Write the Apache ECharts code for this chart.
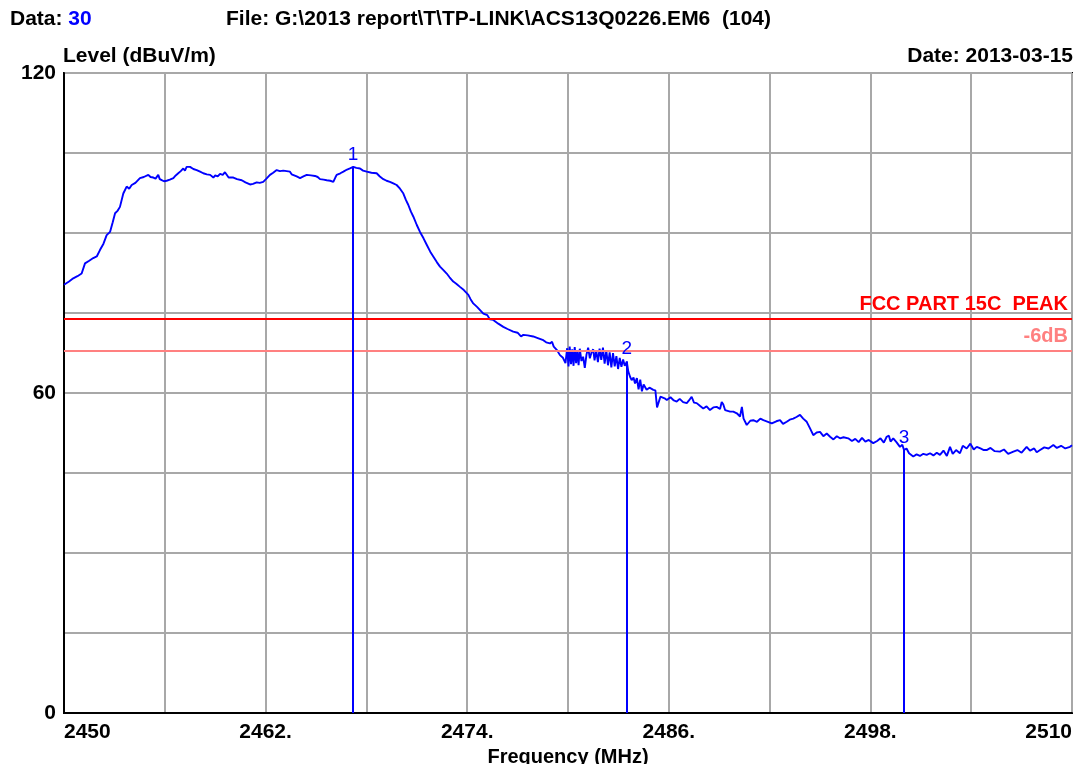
<!DOCTYPE html>
<html>
<head>
<meta charset="utf-8">
<title>Level vs Frequency</title>
<script src="https://cdn.jsdelivr.net/npm/echarts@6/dist/echarts.min.js"></script>
<style>
  html, body { margin: 0; padding: 0; background: #ffffff; }
  #chart { width: 1089px; height: 764px; }
</style>
</head>
<body>
<div id="chart"></div>
<script>
// Measured trace: frequency (MHz) and level (dBuV/m)
const freqMHz = [
  2450.00, 2450.30, 2450.55, 2450.80, 2451.05, 2451.25, 2451.50, 2451.74, 2451.95, 2452.14,
  2452.35, 2452.54, 2452.74, 2452.90, 2453.04, 2453.20, 2453.33, 2453.53, 2453.73, 2453.88,
  2454.03, 2454.25, 2454.52, 2454.75, 2455.02, 2455.15, 2455.32, 2455.45, 2455.61, 2455.70,
  2455.82, 2455.95, 2456.11, 2456.30, 2456.51, 2456.65, 2456.80, 2456.95, 2457.10, 2457.20,
  2457.30, 2457.50, 2457.70, 2457.90, 2458.10, 2458.29, 2458.50, 2458.70, 2458.89, 2459.00,
  2459.15, 2459.29, 2459.45, 2459.58, 2459.68, 2459.80, 2460.08, 2460.30, 2460.58, 2460.80,
  2461.07, 2461.25, 2461.47, 2461.65, 2461.86, 2462.05, 2462.26, 2462.45, 2462.66, 2462.85,
  2463.05, 2463.25, 2463.45, 2463.55, 2463.65, 2463.85, 2464.05, 2464.25, 2464.45, 2464.70,
  2464.94, 2465.10, 2465.24, 2465.45, 2465.64, 2465.85, 2466.03, 2466.15, 2466.23, 2466.45,
  2466.63, 2466.85, 2467.02, 2467.22, 2467.40, 2467.62, 2467.80, 2468.02, 2468.30, 2468.61,
  2468.80, 2469.01, 2469.20, 2469.40, 2469.60, 2469.80, 2470.00, 2470.20, 2470.35, 2470.49,
  2470.65, 2470.79, 2471.00, 2471.19, 2471.40, 2471.59, 2471.80, 2471.98, 2472.20, 2472.38,
  2472.60, 2472.78, 2472.95, 2473.17, 2473.35, 2473.57, 2473.80, 2474.07, 2474.20, 2474.36,
  2474.60, 2474.96, 2475.20, 2475.35, 2475.55, 2475.85, 2476.15, 2476.40, 2476.74, 2477.00,
  2477.20, 2477.34, 2477.60, 2477.93, 2478.20, 2478.53, 2478.70, 2478.93, 2479.05, 2479.15,
  2479.33, 2479.52, 2479.70, 2479.85, 2479.95, 2480.03, 2480.10, 2480.18, 2480.25, 2480.33,
  2480.40, 2480.48, 2480.55, 2480.63, 2480.70, 2480.80, 2480.90, 2481.00, 2481.10, 2481.20,
  2481.30, 2481.40, 2481.50, 2481.58, 2481.68, 2481.78, 2481.88, 2481.98, 2482.08, 2482.18,
  2482.28, 2482.38, 2482.48, 2482.58, 2482.68, 2482.78, 2482.88, 2482.98, 2483.08, 2483.18,
  2483.28, 2483.38, 2483.50, 2483.59, 2483.70, 2483.79, 2483.90, 2483.99, 2484.10, 2484.20,
  2484.30, 2484.40, 2484.50, 2484.68, 2484.85, 2485.08, 2485.20, 2485.30, 2485.38, 2485.50,
  2485.58, 2485.75, 2485.88, 2486.10, 2486.30, 2486.47, 2486.65, 2486.85, 2487.07, 2487.20,
  2487.36, 2487.50, 2487.66, 2487.85, 2488.05, 2488.25, 2488.45, 2488.65, 2488.85, 2489.05,
  2489.15, 2489.24, 2489.35, 2489.44, 2489.65, 2489.84, 2490.05, 2490.24, 2490.35, 2490.45,
  2490.64, 2490.85, 2491.03, 2491.25, 2491.45, 2491.63, 2491.90, 2492.13, 2492.40, 2492.62,
  2492.80, 2493.02, 2493.20, 2493.41, 2493.60, 2493.81, 2494.00, 2494.21, 2494.40, 2494.60,
  2494.80, 2495.00, 2495.20, 2495.40, 2495.60, 2495.80, 2496.00, 2496.19, 2496.40, 2496.68,
  2496.90, 2497.10, 2497.30, 2497.50, 2497.70, 2497.90, 2498.17, 2498.40, 2498.60, 2498.80,
  2498.97, 2499.10, 2499.20, 2499.36, 2499.55, 2499.76, 2499.90, 2500.00, 2500.15, 2500.30,
  2500.55, 2500.75, 2500.95, 2501.15, 2501.35, 2501.55, 2501.75, 2501.95, 2502.14, 2502.35,
  2502.55, 2502.74, 2502.90, 2503.10, 2503.33, 2503.50, 2503.73, 2503.95, 2504.15, 2504.33,
  2504.55, 2504.75, 2504.92, 2505.15, 2505.40, 2505.71, 2505.95, 2506.20, 2506.51, 2506.75,
  2507.00, 2507.30, 2507.50, 2507.75, 2507.90, 2508.10, 2508.35, 2508.60, 2508.89, 2509.10,
  2509.35, 2509.60, 2509.88, 2510.00
];
const levelDb = [
  80.3, 80.9, 81.5, 81.9, 82.4, 84.3, 84.8, 85.3, 85.6, 86.8,
  88.0, 89.6, 90.2, 92.0, 93.7, 94.2, 94.9, 97.4, 98.7, 98.3,
  99.0, 99.4, 100.3, 100.5, 100.9, 100.5, 100.4, 100.2, 100.9, 100.1,
  99.9, 99.7, 99.8, 100.0, 100.3, 100.8, 101.2, 101.6, 102.1, 101.7,
  102.4, 102.4, 102.0, 101.8, 101.5, 101.2, 101.0, 100.9, 100.4, 100.8,
  100.6, 101.1, 100.9, 101.4, 101.2, 100.4, 100.4, 100.1, 99.9, 99.5,
  99.1, 99.2, 99.5, 99.4, 99.6, 100.2, 100.9, 101.3, 101.8, 101.6,
  101.7, 101.6, 101.5, 101.0, 100.9, 100.6, 100.3, 100.6, 100.9, 100.8,
  100.7, 100.5, 100.1, 100.0, 99.9, 99.8, 99.6, 100.4, 100.9, 101.2,
  101.5, 101.9, 102.1, 102.4, 102.2, 102.1, 101.7, 101.5, 101.3, 101.2,
  100.6, 100.1, 99.8, 99.6, 99.3, 99.0, 98.3, 97.4, 96.2, 95.3,
  94.0, 93.1, 91.5, 90.2, 89.0, 87.8, 86.5, 85.6, 84.5, 83.7,
  83.0, 82.4, 81.7, 80.9, 80.5, 79.9, 79.3, 78.4, 77.6, 76.8,
  76.1, 74.9, 74.6, 73.8, 73.7, 73.0, 72.4, 72.0, 71.5, 71.3,
  70.6, 70.9, 70.8, 70.6, 70.3, 69.9, 69.5, 69.3, 69.6, 68.7,
  68.1, 67.1, 66.6, 65.6, 68.4, 65.0, 68.7, 65.4, 68.2, 65.1,
  68.6, 65.6, 67.8, 65.2, 68.3, 66.0, 66.8, 64.7, 67.2, 68.5,
  66.5, 67.6, 68.2, 66.1, 68.0, 65.8, 68.3, 66.2, 68.5, 65.5,
  68.0, 65.2, 67.6, 64.8, 67.5, 65.0, 66.9, 64.5, 66.6, 64.9,
  66.3, 65.1, 65.9, 64.0, 63.0, 62.4, 62.9, 61.8, 62.8, 60.7,
  62.5, 60.3, 61.6, 60.6, 61.0, 60.6, 60.5, 57.3, 57.1, 59.3,
  59.6, 59.0, 58.7, 59.2, 58.6, 58.4, 58.9, 58.3, 58.1, 58.6,
  59.3, 58.2, 58.1, 57.6, 57.1, 57.5, 56.8, 57.3, 57.4, 57.0,
  58.3, 57.9, 56.8, 56.9, 56.5, 56.5, 56.2, 55.6, 57.4, 55.2,
  54.0, 54.8, 54.9, 54.6, 55.2, 54.9, 54.6, 54.3, 54.7, 54.9,
  54.2, 54.6, 55.0, 55.2, 55.5, 55.9, 55.2, 54.6, 53.4, 52.1,
  52.6, 52.7, 51.9, 52.4, 51.8, 51.3, 51.9, 51.5, 51.7, 51.5,
  51.0, 51.4, 50.8, 51.6, 50.9, 51.2, 50.6, 51.0, 51.5, 50.7,
  51.8, 52.0, 50.9, 51.5, 50.8, 49.9, 50.3, 49.3, 49.6, 48.7,
  48.1, 48.5, 48.2, 48.6, 48.4, 48.7, 48.3, 48.8, 48.4, 49.2,
  48.2, 49.9, 48.6, 49.3, 48.7, 50.1, 49.6, 50.5, 49.4, 49.9,
  49.6, 49.3, 49.3, 49.7, 49.1, 49.0, 49.4, 48.6, 49.0, 49.3,
  48.8, 49.9, 49.2, 49.6, 48.9, 49.3, 49.8, 49.6, 50.25, 49.7,
  50.1, 49.6, 49.9, 50.2
];

// Peak markers
const markerNames = ['1', '2', '3'];
const markerFreq = [2467.2, 2483.5, 2500.0];
const markerLevel = [102.4, 65.9, 49.3];

// Limit lines
const limitNames = ['FCC PART 15C  PEAK', '-6dB'];
const limitLevels = [74, 68];
const limitColors = ['#ff0000', '#ff8080'];

// Axis tick labels
const xTickValues = [2450, 2462, 2474, 2486, 2498, 2510];
const xTickLabels = ['2450', '2462.', '2474.', '2486.', '2498.', '2510'];
const yTickValues = [0, 60, 120];
const yTickLabels = ['0', '60', '120'];

// Header texts
const dataLabel = 'Data: ';
const dataNumber = '30';
const fileText = 'File: G:\\2013 report\\T\\TP-LINK\\ACS13Q0226.EM6  (104)';
const yAxisTitle = 'Level (dBuV/m)';
const dateText = 'Date: 2013-03-15';
const xAxisTitle = 'Frequency (MHz)';

const FONT = "'Liberation Sans', Arial, sans-serif";
const BLUE = '#0000ff';
const TXT = 21;

const chart = echarts.init(document.getElementById('chart'), null, { renderer: 'canvas' });

const trace = freqMHz.map((f, i) => [f, levelDb[i]]);

const markerLines = markerFreq.map((f, i) => [
  {
    coord: [f, 0],
    lineStyle: { color: BLUE, width: 2, type: 'solid' },
    label: {
      show: true, position: 'end', distance: 3, formatter: markerNames[i],
      color: BLUE, fontSize: 19, fontFamily: FONT, fontWeight: 'normal'
    }
  },
  { coord: [f, markerLevel[i]] }
]);

const limitLines = limitLevels.map((v, i) => ({
  yAxis: v,
  lineStyle: { color: limitColors[i], width: 2, type: 'solid' },
  label: {
    show: true, position: 'insideEndTop', distance: [4, 4], formatter: limitNames[i],
    color: limitColors[i], fontSize: 20, fontWeight: 'bold', fontFamily: FONT
  }
}));

const labelFor = (vals, labels) => (v) => {
  const k = vals.indexOf(Math.round(v));
  return k >= 0 ? labels[k] : '';
};

const option = {
  backgroundColor: '#ffffff',
  animation: false,
  grid: {
    left: 64, right: 17, top: 73, bottom: 51,
    outerBoundsMode: 'none', containLabel: false,
    show: true, borderColor: '#000000', borderWidth: 2, backgroundColor: '#ffffff'
  },
  xAxis: {
    type: 'value', min: 2450, max: 2510, interval: 6,
    name: xAxisTitle, nameLocation: 'middle', nameGap: 31,
    nameTextStyle: { color: '#000', fontSize: 20, fontWeight: 'bold', fontFamily: FONT },
    axisLine: { show: true, lineStyle: { color: '#000', width: 2 } },
    axisTick: { show: false },
    axisLabel: {
      color: '#000', fontSize: TXT, fontWeight: 'bold', fontFamily: FONT, margin: 9,
      formatter: labelFor(xTickValues, xTickLabels),
      alignMinLabel: 'left', alignMaxLabel: 'right', showMinLabel: true, showMaxLabel: true
    },
    splitLine: { show: true, lineStyle: { color: '#a8a8a8', width: 2 } }
  },
  yAxis: {
    type: 'value', min: 0, max: 120, interval: 15,
    axisLine: { show: true, lineStyle: { color: '#000', width: 2 } },
    axisTick: { show: false },
    axisLabel: {
      color: '#000', fontSize: TXT, fontWeight: 'bold', fontFamily: FONT, margin: 8,
      formatter: labelFor(yTickValues, yTickLabels), showMinLabel: true, showMaxLabel: true
    },
    splitLine: { show: true, lineStyle: { color: '#a8a8a8', width: 2 } }
  },
  graphic: [
    {
      type: 'text', left: 10, top: 9,
      style: {
        text: '{a|' + dataLabel + '}{b|' + dataNumber + '}',
        rich: {
          a: { fill: '#000', fontSize: TXT, fontWeight: 'bold', fontFamily: FONT },
          b: { fill: BLUE, fontSize: TXT, fontWeight: 'bold', fontFamily: FONT }
        }
      }
    },
    {
      type: 'text', left: 226, top: 9,
      style: { text: fileText, fill: '#000', fontSize: TXT, fontWeight: 'bold', fontFamily: FONT }
    },
    {
      type: 'text', left: 63, top: 46,
      style: { text: yAxisTitle, fill: '#000', fontSize: TXT, fontWeight: 'bold', fontFamily: FONT }
    },
    {
      type: 'text', right: 16, top: 46,
      style: { text: dateText, fill: '#000', fontSize: TXT, fontWeight: 'bold', fontFamily: FONT }
    }
  ],
  series: [
    {
      type: 'line',
      data: trace,
      showSymbol: false,
      symbol: 'none',
      lineStyle: { color: BLUE, width: 1.9 },
      z: 3,
      markLine: {
        silent: true,
        symbol: ['none', 'none'],
        animation: false,
        data: limitLines.concat(markerLines)
      }
    }
  ]
};

chart.setOption(option);
</script>
</body>
</html>
